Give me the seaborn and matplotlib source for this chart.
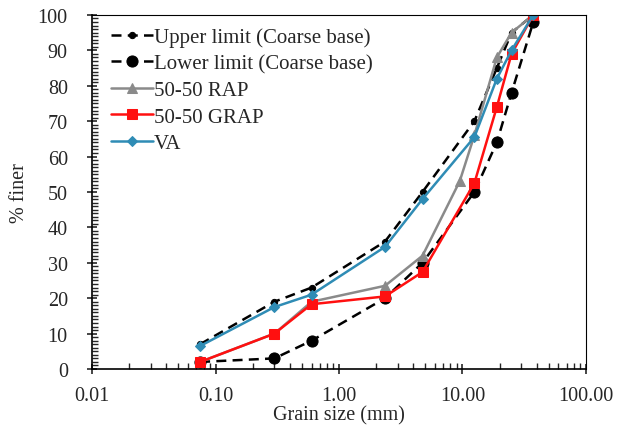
import matplotlib
matplotlib.use("Agg")
import matplotlib.pyplot as plt
import matplotlib.ticker as mticker
import pandas as pd
import seaborn as sns

# Sieve sizes (mm) and percent finer for each gradation
sieve_mm = [0.075, 0.3, 0.6, 2.36, 4.75, 12.5, 19, 25, 37.5]
sieve_rap = [0.075, 0.3, 0.6, 2.36, 4.75, 9.5, 12.5, 19, 25, 37.5]

upper_limit = [7, 19, 23, 36, 50, 70, 85, 95, 100]
lower_limit = [2, 3, 8, 20, 30, 50, 64, 78, 98]
rap_5050 = [2, 10, 19, 23.5, 32, 53, 66, 88, 95, 100]
grap_5050 = [2, 10, 18.3, 20.5, 27.4, 52.5, 74, 89, 100]
va = [6.5, 17.5, 21, 34.5, 48, 65.5, 82, 90, 100]

series = [
    ("Upper limit (Coarse base)", sieve_mm, upper_limit),
    ("Lower limit (Coarse base)", sieve_mm, lower_limit),
    ("50-50 RAP", sieve_rap, rap_5050),
    ("50-50 GRAP", sieve_mm, grap_5050),
    ("VA", sieve_mm, va),
]

styles = {
    "Upper limit (Coarse base)": dict(color="black", marker="o", markersize=4.5, dashes=(4, 2.5), lw=1.8),
    "Lower limit (Coarse base)": dict(color="black", marker="o", markersize=8, dashes=(4, 2.5), lw=1.8),
    "50-50 RAP": dict(color="#8a8a8a", marker="^", markersize=7, dashes=None, lw=1.8),
    "50-50 GRAP": dict(color="#ff1010", marker="s", markersize=7.5, dashes=None, lw=1.8),
    "VA": dict(color="#2f8cb5", marker="D", markersize=5.5, dashes=None, lw=1.8),
}

sns.set_style("ticks")
plt.rcParams["font.family"] = ["Liberation Serif", "DejaVu Serif"]
plt.rcParams["font.size"] = 14.5

fig = plt.figure(figsize=(6.18, 4.31), dpi=100)
ax = fig.add_axes([0.149, 0.1415, 0.799, 0.8215])

for name, xs, ys in series:
    st = styles[name]
    df = pd.DataFrame({"x": xs, "y": ys})
    sns.lineplot(data=df, x="x", y="y", ax=ax, color=st["color"], marker=st["marker"],
                 markersize=st["markersize"], markeredgecolor=st["color"],
                 linewidth=st["lw"], label=name, sort=False)
    line = ax.lines[-1]
    if st["dashes"]:
        line.set_dashes(st["dashes"])

ax.set_xscale("log")
ax.set_xlim(0.01, 100)
ax.set_ylim(0, 100)
ax.xaxis.set_major_locator(mticker.LogLocator(base=10))
ax.xaxis.set_major_formatter(mticker.FuncFormatter(lambda v, p: f"{v:.2f}"))
ax.xaxis.set_minor_locator(mticker.LogLocator(base=10, subs=range(2, 10)))
ax.xaxis.set_minor_formatter(mticker.NullFormatter())
ax.yaxis.set_major_locator(mticker.MultipleLocator(10))
ax.yaxis.set_minor_locator(mticker.MultipleLocator(1))

ax.tick_params(axis="both", which="major", direction="inout", length=7, width=1.2, labelsize=14.5)
ax.tick_params(axis="y", which="major", pad=14)
ax.tick_params(axis="x", which="major", pad=9)
ax.tick_params(axis="both", which="minor", direction="in", length=4, width=1)
for sp in ax.spines.values():
    sp.set_linewidth(1.2)
    sp.set_color("black")
ax.spines["top"].set_linewidth(0.8)
ax.spines["right"].set_linewidth(0.8)

ax.set_xlabel("Grain size (mm)", fontsize=14.5, labelpad=0)
ax.set_ylabel("% finer", fontsize=14.5, labelpad=6)

leg = ax.legend(loc="upper left", frameon=False, fontsize=15, handlelength=2.0,
                handletextpad=0.05, labelspacing=0.33, borderaxespad=0.2,
                bbox_to_anchor=(0.013, 1.0))

fig.savefig("out.png", dpi=100)
